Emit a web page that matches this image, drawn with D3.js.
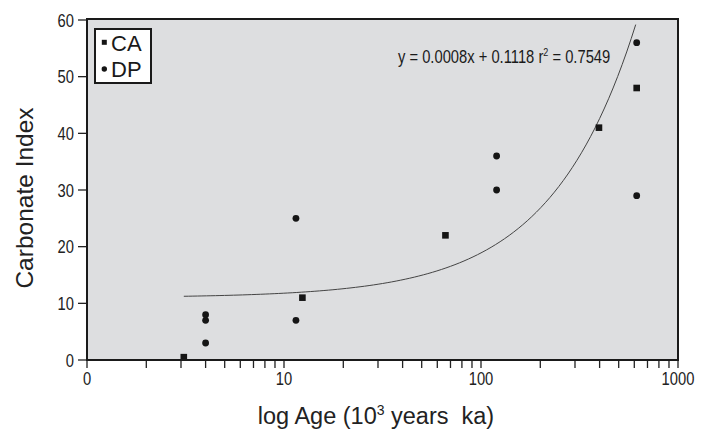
<!DOCTYPE html>
<html>
<head>
<meta charset="utf-8">
<script src="https://cdn.jsdelivr.net/npm/d3@7"></script>
<style>
  html, body { margin: 0; padding: 0; background: #fff; }
  svg { display: block; }
  text { font-family: "Liberation Sans", Arial, sans-serif; }
</style>
</head>
<body>
<script>
// data
var caAge = [3.1, 12.4, 66, 397, 617]
var caIndex = [0.5, 11, 22, 41, 48]
var dpAge = [4, 4, 4, 11.5, 11.5, 120, 120, 617, 617]
var dpIndex = [8, 7, 3, 7, 25, 36, 30, 56, 29]
var xTicks = [1, 10, 100, 1000]
var xTickLabels = ['0', '10', '100', '1000']
var yTicks = [0, 10, 20, 30, 40, 50, 60]
// fitted trend, y = a*x + b over the age range of the line
var trendSlope = 0.079
var trendIntercept = 11.0
var trendRange = [3.1, 610]

var width = 705
var height = 429
var plotL = 87, plotR = 678, plotT = 20, plotB = 360
var squeeze = 0.82 // the chart's numbers use a narrow face

var svg = d3.select('body').append('svg')
  .attr('width', width)
  .attr('height', height)

var x = d3.scaleLog().domain([1, 1000]).range([plotL, plotR])
var y = d3.scaleLinear().domain([0, 60]).range([plotB, plotT])

svg.append('rect')
  .attr('x', plotL).attr('y', plotT - 1)
  .attr('width', plotR - plotL).attr('height', plotB - plotT + 1)
  .attr('fill', '#dddee0')

// minor ticks
var minor = []
for (var k = 0; k < 3; k++) {
  for (var m = 2; m <= 9; m++) minor.push(m * Math.pow(10, k))
}

var xAxis = svg.append('g')
  .attr('transform', 'translate(0,' + plotB + ')')
xAxis.selectAll('line')
  .data(minor.concat(xTicks))
  .join('line')
  .attr('x1', d => x(d)).attr('x2', d => x(d))
  .attr('y1', 0).attr('y2', 8)
  .attr('stroke', '#222').attr('stroke-width', 1.3)
xAxis.selectAll('text')
  .data(xTicks)
  .join('text')
  .attr('transform', d => 'translate(' + x(d) + ',25) scale(' + squeeze + ',1)')
  .attr('text-anchor', 'middle')
  .attr('font-size', 18)
  .attr('fill', '#222')
  .text((d, i) => xTickLabels[i])

var yAxis = svg.append('g')
yAxis.selectAll('line')
  .data(yTicks)
  .join('line')
  .attr('x1', plotL - 9).attr('x2', plotL)
  .attr('y1', d => y(d)).attr('y2', d => y(d))
  .attr('stroke', '#222').attr('stroke-width', 1.3)
yAxis.selectAll('text')
  .data(yTicks)
  .join('text')
  .attr('transform', d => 'translate(' + (plotL - 13) + ',' + (y(d) + 6.5) + ') scale(' + squeeze + ',1)')
  .attr('text-anchor', 'end')
  .attr('font-size', 18)
  .attr('fill', '#222')
  .text(d => d)

// trend line
var trendPts = d3.range(0, 101).map(function (i) {
  var a = Math.log10(trendRange[0]), b = Math.log10(trendRange[1])
  var xv = Math.pow(10, a + (b - a) * i / 100)
  return [xv, trendSlope * xv + trendIntercept]
})
svg.append('path')
  .datum(trendPts)
  .attr('d', d3.line().x(d => x(d[0])).y(d => y(d[1])))
  .attr('fill', 'none')
  .attr('stroke', '#444')
  .attr('stroke-width', 1)

// points
svg.selectAll('rect.ca')
  .data(caAge.map((a, i) => [a, caIndex[i]]))
  .join('rect')
  .attr('class', 'ca')
  .attr('x', d => x(d[0]) - 3.3)
  .attr('y', d => y(d[1]) - 3.3)
  .attr('width', 6.6).attr('height', 6.6)
  .attr('fill', '#151515')

svg.selectAll('circle.dp')
  .data(dpAge.map((a, i) => [a, dpIndex[i]]))
  .join('circle')
  .attr('class', 'dp')
  .attr('cx', d => x(d[0]))
  .attr('cy', d => y(d[1]))
  .attr('r', 3.4)
  .attr('fill', '#151515')

// frame
svg.append('rect')
  .attr('x', plotL).attr('y', plotT - 1)
  .attr('width', plotR - plotL).attr('height', plotB - plotT + 1)
  .attr('fill', 'none')
  .attr('stroke', '#1a1a1a')
  .attr('stroke-width', 2)

// legend
var lg = svg.append('g')
lg.append('rect')
  .attr('x', 95).attr('y', 29)
  .attr('width', 56).attr('height', 54)
  .attr('fill', '#fff')
  .attr('stroke', '#1a1a1a').attr('stroke-width', 2)
lg.append('rect')
  .attr('x', 101.8).attr('y', 39.8).attr('width', 5).attr('height', 5)
  .attr('fill', '#151515')
lg.append('circle')
  .attr('cx', 104.3).attr('cy', 69).attr('r', 2.7)
  .attr('fill', '#151515')
lg.append('text')
  .attr('x', 111).attr('y', 51)
  .attr('font-size', 22).attr('fill', '#1a1a1a')
  .text('CA')
lg.append('text')
  .attr('x', 111).attr('y', 76.5)
  .attr('font-size', 22).attr('fill', '#1a1a1a')
  .text('DP')

// equation
var eq = svg.append('text')
  .attr('transform', 'translate(398,62.5) scale(' + squeeze + ',1)')
  .attr('font-size', 18).attr('fill', '#1a1a1a')
eq.append('tspan').text('y = 0.0008x + 0.1118 r')
eq.append('tspan').attr('font-size', 11).attr('dy', -7).text('2')
eq.append('tspan').attr('dy', 7).text(' = 0.7549')

// axis titles
svg.append('text')
  .attr('transform', 'translate(33,198) rotate(-90)')
  .attr('text-anchor', 'middle')
  .attr('font-size', 24.5).attr('fill', '#222')
  .text('Carbonate Index')

var xt = svg.append('text')
  .attr('x', 376).attr('y', 424)
  .attr('text-anchor', 'middle')
  .attr('font-size', 23.5).attr('fill', '#222')
  .style('white-space', 'pre')
xt.append('tspan').text('log Age (10')
xt.append('tspan').attr('font-size', 14).attr('dy', -9).text('3')
xt.append('tspan').attr('dy', 9).text(' years  ka)')
</script>
</body>
</html>
